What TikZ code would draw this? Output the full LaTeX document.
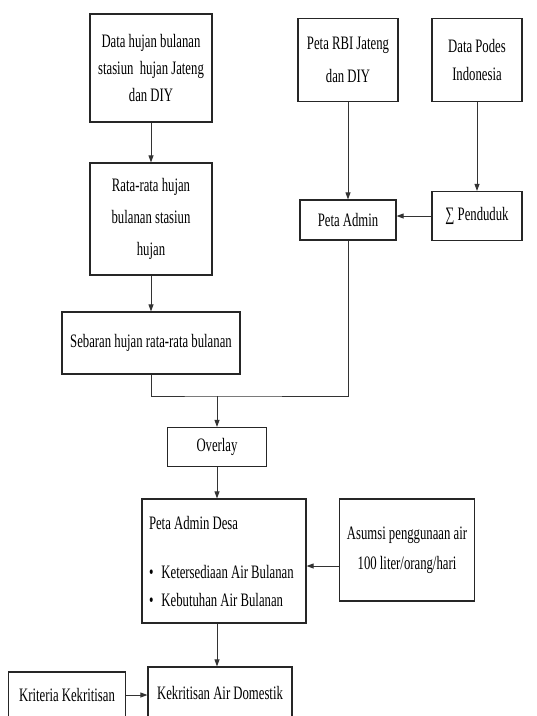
\documentclass[tikz,border=0pt]{standalone}
\usepackage{fontspec}
\setmainfont{Liberation Serif}[FakeStretch=0.67]
\usepackage{tikz}
\usetikzlibrary{positioning, arrows.meta}
\tikzset{
	x=1pt, y=-1pt, % one unit is one pixel of the page, y runs downwards
	>={Triangle[length=7pt,width=5pt]}, % filled arrow heads
	proc/.style={draw=black!85, line width=1.2pt, inner sep=0pt, align=center,
		font=\fontsize{19}{27}\selectfont}, % sets the properties for each box
	link/.style={draw=black!80, line width=0.9pt}, % sets the properties for each connector
}

\begin{document}
\begin{tikzpicture}
	\useasboundingbox[fill=white] (0,0) rectangle (537,716);
			\node[proc, minimum width=122, minimum height=108] at (151,68) (d1) {Data hujan bulanan\\stasiun\ \ hujan Jateng\\dan DIY};
			\node[proc, minimum width=122, minimum height=112, font=\fontsize{19}{32}\selectfont] at (151,219) (d2) {Rata-rata hujan\\bulanan stasiun\\hujan};
			\node[proc, minimum width=178, minimum height=62] at (151,343) (d3) {Sebaran hujan rata-rata bulanan};
			\node[proc, minimum width=100, minimum height=83, font=\fontsize{19}{33}\selectfont] at (348,60) (rbi) {Peta RBI Jateng\\dan DIY};
			\node[proc, minimum width=90, minimum height=83, font=\fontsize{19}{28}\selectfont] at (477,60) (podes) {Data Podes\\Indonesia};
			\node[proc, minimum width=96, minimum height=40] at (348,220) (admin) {Peta Admin};
			\node[proc, minimum width=90, minimum height=49] at (477,216) (pend) {∑ Penduduk};
			\node[proc, minimum width=99, minimum height=39] at (217,447) (overlay) {Overlay};
			\node[proc, minimum width=164, minimum height=124, align=flush left, text width=150, inner xsep=7pt, font=\fontsize{19}{28}\selectfont] at (224,561) (desa) {Peta Admin Desa\\[21pt]\textbullet\hspace{8pt}Ketersediaan Air Bulanan\\\textbullet\hspace{8pt}Kebutuhan Air Bulanan};
			\node[proc, minimum width=135, minimum height=102, font=\fontsize{19}{30}\selectfont] at (407,550) (asumsi) {Asumsi penggunaan air\\100 liter/orang/hari};
			\node[proc, minimum width=144, minimum height=52] at (220,693) (krit) {Kekritisan Air Domestik};
			\node[proc, minimum width=117, minimum height=46] at (67,695) (kriteria) {Kriteria Kekritisan};
			\coordinate (m) at (217,396);
	\draw[link, ->] (d1) -- (d2);
	\draw[link, ->] (d2) -- (d3);
	\draw[link, ->] (rbi) -- (admin);
	\draw[link, ->] (podes) -- (pend);
	\draw[link, ->] (pend.west) -- (pend.west -| admin.east);
	\draw[link] (d3.south) |- (m) -| (admin.south);
	\draw[link, ->] (m) -- (overlay);
	\draw[link, ->] (overlay.south) -- (overlay.south |- desa.north);
	\draw[link, ->] ([yshift=-16pt]asumsi.west) -- ([yshift=-16pt]asumsi.west -| desa.east);
	\draw[link, ->] (desa.south -| overlay) -- (krit.north -| overlay);
	\draw[link, ->] (kriteria.east) -- (kriteria.east -| krit.west);
	\end{tikzpicture}
\end{document}
